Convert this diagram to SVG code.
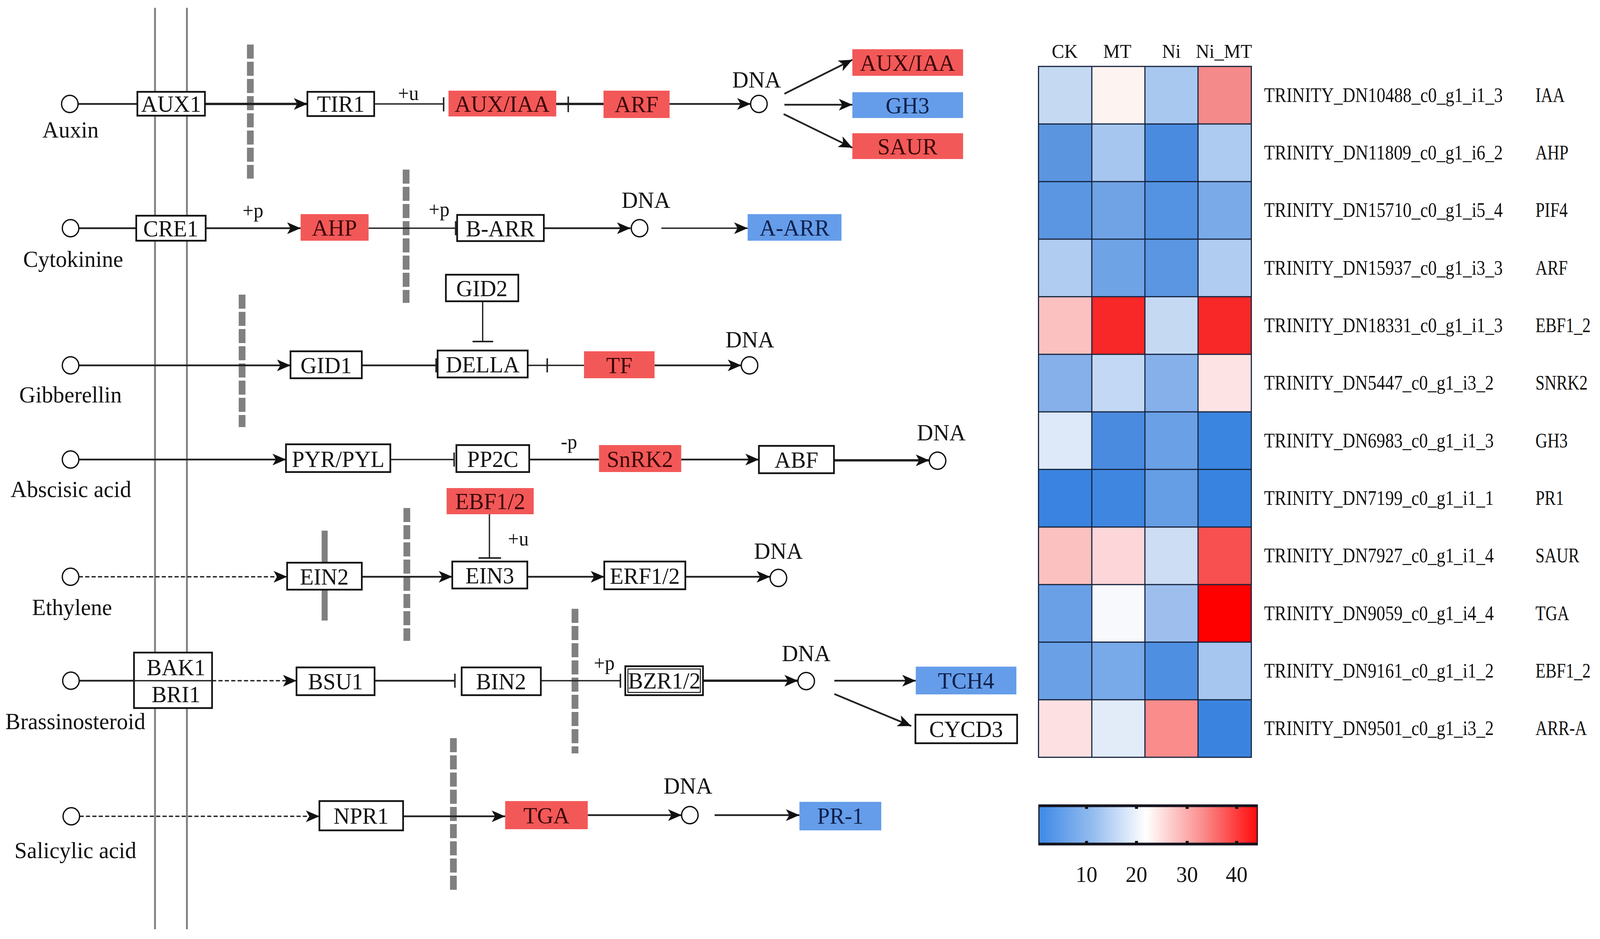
<svg xmlns="http://www.w3.org/2000/svg" width="4263" height="2403" viewBox="0 0 4263 2403" preserveAspectRatio="none">
<defs>
<marker id="arr" markerUnits="userSpaceOnUse" markerWidth="40" markerHeight="32" refX="36" refY="16" orient="auto">
<path d="M0,1 L36,16 L0,31 L9,16 z" fill="#111"/>
</marker>
<linearGradient id="cbar" x1="0" x2="1" y1="0" y2="0">
<stop offset="0" stop-color="#3d88e6"/>
<stop offset="0.25" stop-color="#95bdef"/>
<stop offset="0.49" stop-color="#ffffff"/>
<stop offset="0.75" stop-color="#fb8c8c"/>
<stop offset="1" stop-color="#ff0a0a"/>
</linearGradient>
<style>
svg{width:100vw;height:100vh;display:block}
.t{font-family:"Liberation Serif","Times New Roman",serif;font-size:60px;fill:#111;text-anchor:middle}
.s{font-family:"Liberation Serif","Times New Roman",serif;font-size:52px;fill:#111;text-anchor:middle}
.h{font-family:"Liberation Serif","Times New Roman",serif;font-size:50px;fill:#111;text-anchor:middle}
.g{font-family:"Liberation Serif","Times New Roman",serif;font-size:52px;fill:#111;text-anchor:start}
.box{fill:#fff;stroke:#111;stroke-width:4.5}
.red{fill:#f35858}
.blue{fill:#659dea}
.rt{fill:#3a0808}
.bt{fill:#10204a}
.c{fill:#fff;stroke:#111;stroke-width:3.5}
.ln{stroke:#222;stroke-width:4.5;fill:none}
.thk{stroke-width:6}
.thn{stroke-width:3.5}
.dsh{stroke-dasharray:11 6}
.arr{marker-end:url(#arr)}
.bar{stroke:#222;stroke-width:4;fill:none}
.gd{stroke:#808080;stroke-width:18;stroke-dasharray:36 8;fill:none}
.mem{stroke:#808080;stroke-width:5;fill:none}
.grid{stroke:#16233d;stroke-width:3;fill:none}
</style>
</defs>
<rect width="4263" height="2403" fill="#fff"/>

<g id="membrane">
<line class="mem" x1="413" y1="20" x2="413" y2="2378"/>
<line class="mem" x1="498" y1="20" x2="498" y2="2378"/>
<line class="gd" x1="667" y1="114" x2="667" y2="457"/>
<line class="gd" x1="1082" y1="434" x2="1082" y2="775"/>
<line class="gd" x1="645" y1="754" x2="645" y2="1093"/>
<line class="gd" x1="1084" y1="1300" x2="1084" y2="1640"/>
<line class="gd" x1="1532" y1="1558" x2="1532" y2="1928"/>
<line class="gd" x1="1208" y1="1889" x2="1208" y2="2278"/>
<line stroke="#808080" stroke-width="16" x1="865" y1="1358" x2="865" y2="1588"/>
</g>

<g id="connectors">
<line class="ln" x1="208" y1="266" x2="366" y2="266"/>
<line class="ln thk arr" x1="546" y1="266" x2="819" y2="266"/>
<line class="ln thn" x1="997" y1="266" x2="1182" y2="266"/>
<line class="bar" x1="1182" y1="249" x2="1182" y2="285"/>
<line class="ln thk" x1="1482" y1="266" x2="1608" y2="266"/>
<line class="bar" x1="1514" y1="247" x2="1514" y2="287"/>
<line class="ln arr" x1="1784" y1="266" x2="2000" y2="266"/>
<line class="ln arr" x1="2090" y1="240" x2="2271" y2="153"/>
<line class="ln arr" x1="2090" y1="268" x2="2271" y2="268"/>
<line class="ln arr" x1="2088" y1="292" x2="2271" y2="378"/>
<line class="ln" x1="210" y1="584" x2="363" y2="584"/>
<line class="ln arr" x1="548" y1="584" x2="801" y2="584"/>
<line class="ln thn" x1="982" y1="584" x2="1214" y2="584"/>
<line class="bar" x1="1214" y1="566" x2="1214" y2="602"/>
<line class="ln arr" x1="1449" y1="584" x2="1680" y2="584"/>
<line class="ln thn arr" x1="1762" y1="584" x2="1992" y2="584"/>
<line class="ln arr" x1="210" y1="935" x2="774" y2="935"/>
<line class="ln" x1="964" y1="935" x2="1162" y2="935"/>
<line class="bar" x1="1162" y1="917" x2="1162" y2="953"/>
<line class="ln thn" x1="1406" y1="935" x2="1556" y2="935"/>
<line class="bar" x1="1458" y1="917" x2="1458" y2="953"/>
<line class="ln arr" x1="1744" y1="935" x2="1975" y2="935"/>
<line class="ln thn" x1="1286" y1="771" x2="1286" y2="874"/>
<line class="bar" x1="1259" y1="874" x2="1314" y2="874"/>
<line class="ln arr" x1="210" y1="1176" x2="762" y2="1176"/>
<line class="ln thn" x1="1040" y1="1176" x2="1210" y2="1176"/>
<line class="bar" x1="1210" y1="1158" x2="1210" y2="1194"/>
<line class="ln" x1="1410" y1="1176" x2="1596" y2="1176"/>
<line class="ln arr" x1="1815" y1="1176" x2="2022" y2="1176"/>
<line class="ln thk arr" x1="2222" y1="1178" x2="2476" y2="1178"/>
<line class="ln thn dsh arr" x1="210" y1="1476" x2="765" y2="1476"/>
<line class="ln arr" x1="964" y1="1476" x2="1205" y2="1476"/>
<line class="ln arr" x1="1405" y1="1476" x2="1610" y2="1476"/>
<line class="ln arr" x1="1826" y1="1476" x2="2052" y2="1476"/>
<line class="ln thn" x1="1304" y1="1316" x2="1304" y2="1428"/>
<line class="bar" x1="1275" y1="1428" x2="1335" y2="1428"/>
<line class="ln" x1="211" y1="1742" x2="357" y2="1742"/>
<line class="ln thn dsh arr" x1="565" y1="1742" x2="790" y2="1742"/>
<line class="ln" x1="998" y1="1742" x2="1212" y2="1742"/>
<line class="bar" x1="1212" y1="1724" x2="1212" y2="1760"/>
<line class="ln thn" x1="1441" y1="1742" x2="1653" y2="1742"/>
<line class="bar" x1="1653" y1="1724" x2="1653" y2="1760"/>
<line class="ln thk arr" x1="1873" y1="1742" x2="2126" y2="1742"/>
<line class="ln arr" x1="2223" y1="1742" x2="2440" y2="1742"/>
<line class="ln arr" x1="2223" y1="1776" x2="2428" y2="1858"/>
<line class="ln thn dsh arr" x1="212" y1="2089" x2="851" y2="2089"/>
<line class="ln arr" x1="1074" y1="2089" x2="1346" y2="2089"/>
<line class="ln arr" x1="1566" y1="2086" x2="1816" y2="2086"/>
<line class="ln arr" x1="1904" y1="2086" x2="2130" y2="2086"/>
<text class="s" x="1088" y="256">+u</text>
<text class="s" x="674" y="556">+p</text>
<text class="s" x="1170" y="553">+p</text>
<text class="s" x="1516" y="1148">-p</text>
<text class="s" x="1381" y="1396">+u</text>
<text class="s" x="1610" y="1714">+p</text>
</g>

<g id="n-auxin"><circle class="c" cx="186" cy="266" r="22"/><text class="t" x="188" y="352">Auxin</text></g>
<g id="n-aux1"><rect class="box" x="366" y="235" width="180" height="61"/><text class="t" x="456" y="286">AUX1</text></g>
<g id="n-tir1"><rect class="box" x="819" y="235" width="178" height="62"/><text class="t" x="908" y="286">TIR1</text></g>
<g id="n-auxiaa1"><rect class="red" x="1195" y="232" width="287" height="66"/><text class="t rt" x="1338" y="286">AUX/IAA</text></g>
<g id="n-arf"><rect class="red" x="1608" y="232" width="176" height="70"/><text class="t rt" x="1696" y="287">ARF</text></g>
<g id="n-dna1"><circle class="c" cx="2022" cy="266" r="22"/><text class="t" x="2016" y="224">DNA</text></g>
<g id="n-auxiaa2"><rect class="red" x="2271" y="126" width="295" height="68"/><text class="t rt" x="2418" y="181">AUX/IAA</text></g>
<g id="n-gh3"><rect class="blue" x="2271" y="236" width="295" height="66"/><text class="t bt" x="2418" y="290">GH3</text></g>
<g id="n-saur"><rect class="red" x="2271" y="341" width="295" height="66"/><text class="t rt" x="2418" y="395">SAUR</text></g>

<g id="n-cytokinine"><circle class="c" cx="188" cy="584" r="22"/><text class="t" x="195" y="683">Cytokinine</text></g>
<g id="n-cre1"><rect class="box" x="363" y="552" width="185" height="64"/><text class="t" x="455" y="605">CRE1</text></g>
<g id="n-ahp"><rect class="red" x="801" y="548" width="181" height="68"/><text class="t rt" x="891" y="603">AHP</text></g>
<g id="n-barr"><rect class="box" x="1218" y="550" width="231" height="67"/><text class="t" x="1333" y="605">B-ARR</text></g>
<g id="n-dna2"><circle class="c" cx="1704" cy="584" r="22"/><text class="t" x="1721" y="532">DNA</text></g>
<g id="n-aarr"><rect class="blue" x="1992" y="548" width="250" height="68"/><text class="t bt" x="2117" y="603">A-ARR</text></g>
<g id="n-gid2"><rect class="box" x="1188" y="703" width="193" height="68"/><text class="t" x="1284" y="758">GID2</text></g>

<g id="n-gibberellin"><circle class="c" cx="188" cy="935" r="22"/><text class="t" x="188" y="1030">Gibberellin</text></g>
<g id="n-gid1"><rect class="box" x="774" y="899" width="190" height="69"/><text class="t" x="869" y="955">GID1</text></g>
<g id="n-della"><rect class="box" x="1166" y="897" width="240" height="69"/><text class="t" x="1286" y="953">DELLA</text></g>
<g id="n-tf"><rect class="red" x="1556" y="899" width="188" height="69"/><text class="t rt" x="1650" y="955">TF</text></g>
<g id="n-dna3"><circle class="c" cx="1997" cy="935" r="22"/><text class="t" x="1998" y="889">DNA</text></g>

<g id="n-abscisic"><circle class="c" cx="188" cy="1176" r="22"/><text class="t" x="189" y="1272">Abscisic acid</text></g>
<g id="n-pyr"><rect class="box" x="762" y="1137" width="278" height="71"/><text class="t" x="901" y="1195">PYR/PYL</text></g>
<g id="n-pp2c"><rect class="box" x="1216" y="1139" width="194" height="69"/><text class="t" x="1313" y="1195">PP2C</text></g>
<g id="n-snrk2"><rect class="red" x="1596" y="1139" width="219" height="69"/><text class="t rt" x="1705" y="1195">SnRK2</text></g>
<g id="n-abf"><rect class="box" x="2022" y="1141" width="200" height="70"/><text class="t" x="2122" y="1197">ABF</text></g>
<g id="n-dna4"><circle class="c" cx="2498" cy="1179" r="22"/><text class="t" x="2508" y="1127">DNA</text></g>
<g id="n-ebf12"><rect class="red" x="1190" y="1249" width="232" height="67"/><text class="t rt" x="1306" y="1303">EBF1/2</text></g>

<g id="n-ethylene"><circle class="c" cx="188" cy="1476" r="22"/><text class="t" x="192" y="1574">Ethylene</text></g>
<g id="n-ein2"><rect class="box" x="765" y="1440" width="199" height="69"/><text class="t" x="864" y="1496">EIN2</text></g>
<g id="n-ein3"><rect class="box" x="1205" y="1437" width="200" height="69"/><text class="t" x="1305" y="1493">EIN3</text></g>
<g id="n-erf12"><rect class="box" x="1610" y="1437" width="216" height="71"/><text class="t" x="1718" y="1494">ERF1/2</text></g>
<g id="n-dna5"><circle class="c" cx="2074" cy="1479" r="22"/><text class="t" x="2074" y="1430">DNA</text></g>

<g id="n-brassinosteroid"><circle class="c" cx="189" cy="1742" r="22"/><text class="t" x="201" y="1866">Brassinosteroid</text></g>
<g id="n-bak1bri1"><rect class="box" x="357" y="1670" width="208" height="142"/><line class="ln thn" x1="357" y1="1742" x2="565" y2="1742"/><text class="t" x="469" y="1728">BAK1</text><text class="t" x="469" y="1797">BRI1</text></g>
<g id="n-bsu1"><rect class="box" x="790" y="1708" width="208" height="71"/><text class="t" x="894" y="1764">BSU1</text></g>
<g id="n-bin2"><rect class="box" x="1230" y="1708" width="211" height="71"/><text class="t" x="1335" y="1764">BIN2</text></g>
<g id="n-bzr12"><rect class="box" x="1666" y="1705" width="207" height="74"/><rect fill="none" stroke="#111" stroke-width="2.5" x="1673" y="1712" width="193" height="60"/><text class="t" x="1770" y="1762">BZR1/2</text></g>
<g id="n-dna6"><circle class="c" cx="2148" cy="1743" r="22"/><text class="t" x="2148" y="1692">DNA</text></g>
<g id="n-tch4"><rect class="blue" x="2440" y="1706" width="268" height="71"/><text class="t bt" x="2574" y="1762">TCH4</text></g>
<g id="n-cycd3"><rect class="box" x="2439" y="1829" width="271" height="73"/><text class="t" x="2574" y="1886">CYCD3</text></g>

<g id="n-salicylic"><circle class="c" cx="190" cy="2089" r="22"/><text class="t" x="201" y="2196">Salicylic acid</text></g>
<g id="n-npr1"><rect class="box" x="851" y="2050" width="223" height="75"/><text class="t" x="962" y="2108">NPR1</text></g>
<g id="n-tga"><rect class="red" x="1346" y="2050" width="220" height="72"/><text class="t rt" x="1456" y="2107">TGA</text></g>
<g id="n-dna7"><circle class="c" cx="1838" cy="2086" r="22"/><text class="t" x="1833" y="2031">DNA</text></g>
<g id="n-pr1"><rect class="blue" x="2130" y="2052" width="218" height="73"/><text class="t bt" x="2239" y="2108">PR-1</text></g>

<g id="heatmap">
<text class="h" x="2837" y="148">CK</text>
<text class="h" x="2977" y="148">MT</text>
<text class="h" x="3121" y="148">Ni</text>
<text class="h" x="3261" y="148">Ni_MT</text>
<g id="cells">
<rect x="2767" y="170" width="142" height="148" fill="#c5d9f2"/><rect x="2909" y="170" width="142" height="148" fill="#fdf3f0"/><rect x="3050" y="170" width="143" height="148" fill="#a9c8ef"/><rect x="3192" y="170" width="142" height="148" fill="#f58a8a"/>
<rect x="2767" y="317" width="142" height="148" fill="#5b95e0"/><rect x="2909" y="317" width="142" height="148" fill="#a6c6ef"/><rect x="3050" y="317" width="143" height="148" fill="#4a8be0"/><rect x="3192" y="317" width="142" height="148" fill="#adcbf0"/>
<rect x="2767" y="465" width="142" height="148" fill="#5a96e2"/><rect x="2909" y="465" width="142" height="148" fill="#6fa3e6"/><rect x="3050" y="465" width="143" height="148" fill="#5393e1"/><rect x="3192" y="465" width="142" height="148" fill="#7aaae8"/>
<rect x="2767" y="612" width="142" height="148" fill="#b0cdf1"/><rect x="2909" y="612" width="142" height="148" fill="#6ea3e6"/><rect x="3050" y="612" width="143" height="148" fill="#5a96e2"/><rect x="3192" y="612" width="142" height="148" fill="#b0cdf1"/>
<rect x="2767" y="759" width="142" height="148" fill="#fbc0c0"/><rect x="2909" y="759" width="142" height="148" fill="#f82828"/><rect x="3050" y="759" width="143" height="148" fill="#c5d9f3"/><rect x="3192" y="759" width="142" height="148" fill="#f82828"/>
<rect x="2767" y="907" width="142" height="148" fill="#85b0ea"/><rect x="2909" y="907" width="142" height="148" fill="#c3d8f4"/><rect x="3050" y="907" width="143" height="148" fill="#85b0ea"/><rect x="3192" y="907" width="142" height="148" fill="#fde3e3"/>
<rect x="2767" y="1054" width="142" height="148" fill="#dde9f8"/><rect x="2909" y="1054" width="142" height="148" fill="#4a8be0"/><rect x="3050" y="1054" width="143" height="148" fill="#6aa0e6"/><rect x="3192" y="1054" width="142" height="148" fill="#3a85e0"/>
<rect x="2767" y="1201" width="142" height="148" fill="#3a83e0"/><rect x="2909" y="1201" width="142" height="148" fill="#3f86e1"/><rect x="3050" y="1201" width="143" height="148" fill="#659ee5"/><rect x="3192" y="1201" width="142" height="148" fill="#3783df"/>
<rect x="2767" y="1349" width="142" height="148" fill="#fbc0c0"/><rect x="2909" y="1349" width="142" height="148" fill="#fcd6d8"/><rect x="3050" y="1349" width="143" height="148" fill="#cdddf4"/><rect x="3192" y="1349" width="142" height="148" fill="#f85050"/>
<rect x="2767" y="1496" width="142" height="148" fill="#6aa0e6"/><rect x="2909" y="1496" width="142" height="148" fill="#f7f9fd"/><rect x="3050" y="1496" width="143" height="148" fill="#9ebfee"/><rect x="3192" y="1496" width="142" height="148" fill="#fe0000"/>
<rect x="2767" y="1643" width="142" height="148" fill="#6aa0e6"/><rect x="2909" y="1643" width="142" height="148" fill="#78a9e8"/><rect x="3050" y="1643" width="143" height="148" fill="#4f8fe2"/><rect x="3192" y="1643" width="142" height="148" fill="#a6c6ef"/>
<rect x="2767" y="1791" width="142" height="147" fill="#fde0e2"/><rect x="2909" y="1791" width="142" height="147" fill="#e2ecf9"/><rect x="3050" y="1791" width="143" height="147" fill="#fa8c8c"/><rect x="3192" y="1791" width="142" height="147" fill="#3a84e0"/>
</g>
<g id="gridlines">
<rect class="grid" x="2767" y="170" width="567" height="1768"/>
<line class="grid" x1="2909" y1="170" x2="2909" y2="1938"/>
<line class="grid" x1="3050.5" y1="170" x2="3050.5" y2="1938"/>
<line class="grid" x1="3192" y1="170" x2="3192" y2="1938"/>
<line class="grid" x1="2767" y1="317.3" x2="3334" y2="317.3"/>
<line class="grid" x1="2767" y1="464.7" x2="3334" y2="464.7"/>
<line class="grid" x1="2767" y1="612" x2="3334" y2="612"/>
<line class="grid" x1="2767" y1="759.3" x2="3334" y2="759.3"/>
<line class="grid" x1="2767" y1="906.7" x2="3334" y2="906.7"/>
<line class="grid" x1="2767" y1="1054" x2="3334" y2="1054"/>
<line class="grid" x1="2767" y1="1201.3" x2="3334" y2="1201.3"/>
<line class="grid" x1="2767" y1="1348.7" x2="3334" y2="1348.7"/>
<line class="grid" x1="2767" y1="1496" x2="3334" y2="1496"/>
<line class="grid" x1="2767" y1="1643.3" x2="3334" y2="1643.3"/>
<line class="grid" x1="2767" y1="1790.7" x2="3334" y2="1790.7"/>
</g>
<g id="rowlabels">
<text class="g" x="3368" y="261" textLength="636" lengthAdjust="spacingAndGlyphs">TRINITY_DN10488_c0_g1_i1_3</text>
<text class="g" x="3368" y="408" textLength="636" lengthAdjust="spacingAndGlyphs">TRINITY_DN11809_c0_g1_i6_2</text>
<text class="g" x="3368" y="555" textLength="636" lengthAdjust="spacingAndGlyphs">TRINITY_DN15710_c0_g1_i5_4</text>
<text class="g" x="3368" y="703" textLength="636" lengthAdjust="spacingAndGlyphs">TRINITY_DN15937_c0_g1_i3_3</text>
<text class="g" x="3368" y="850" textLength="636" lengthAdjust="spacingAndGlyphs">TRINITY_DN18331_c0_g1_i1_3</text>
<text class="g" x="3368" y="997" textLength="612" lengthAdjust="spacingAndGlyphs">TRINITY_DN5447_c0_g1_i3_2</text>
<text class="g" x="3368" y="1145" textLength="612" lengthAdjust="spacingAndGlyphs">TRINITY_DN6983_c0_g1_i1_3</text>
<text class="g" x="3368" y="1292" textLength="612" lengthAdjust="spacingAndGlyphs">TRINITY_DN7199_c0_g1_i1_1</text>
<text class="g" x="3368" y="1439" textLength="612" lengthAdjust="spacingAndGlyphs">TRINITY_DN7927_c0_g1_i1_4</text>
<text class="g" x="3368" y="1587" textLength="612" lengthAdjust="spacingAndGlyphs">TRINITY_DN9059_c0_g1_i4_4</text>
<text class="g" x="3368" y="1734" textLength="612" lengthAdjust="spacingAndGlyphs">TRINITY_DN9161_c0_g1_i1_2</text>
<text class="g" x="3368" y="1881" textLength="612" lengthAdjust="spacingAndGlyphs">TRINITY_DN9501_c0_g1_i3_2</text>
<text class="g" x="4091" y="261" textLength="78" lengthAdjust="spacingAndGlyphs">IAA</text>
<text class="g" x="4091" y="408" textLength="88" lengthAdjust="spacingAndGlyphs">AHP</text>
<text class="g" x="4091" y="555" textLength="86" lengthAdjust="spacingAndGlyphs">PIF4</text>
<text class="g" x="4091" y="703" textLength="86" lengthAdjust="spacingAndGlyphs">ARF</text>
<text class="g" x="4091" y="850" textLength="147" lengthAdjust="spacingAndGlyphs">EBF1_2</text>
<text class="g" x="4091" y="997" textLength="139" lengthAdjust="spacingAndGlyphs">SNRK2</text>
<text class="g" x="4091" y="1145" textLength="86" lengthAdjust="spacingAndGlyphs">GH3</text>
<text class="g" x="4091" y="1292" textLength="76" lengthAdjust="spacingAndGlyphs">PR1</text>
<text class="g" x="4091" y="1439" textLength="117" lengthAdjust="spacingAndGlyphs">SAUR</text>
<text class="g" x="4091" y="1587" textLength="90" lengthAdjust="spacingAndGlyphs">TGA</text>
<text class="g" x="4091" y="1734" textLength="147" lengthAdjust="spacingAndGlyphs">EBF1_2</text>
<text class="g" x="4091" y="1881" textLength="137" lengthAdjust="spacingAndGlyphs">ARR-A</text>
</g>
</g>

<g id="colorbar">
<rect x="2767" y="2059" width="584" height="104" fill="url(#cbar)"/>
<g stroke="#14141e" fill="none">
<line x1="2767" y1="2062" x2="3351" y2="2062" stroke-width="7"/>
<line x1="2767" y1="2160" x2="3351" y2="2160" stroke-width="7"/>
<line x1="2768" y1="2059" x2="2768" y2="2163" stroke-width="3"/>
<line x1="3350" y1="2059" x2="3350" y2="2163" stroke-width="3"/>
</g>
<g fill="#111">
<rect x="2891" y="2062" width="8" height="8"/><rect x="3024" y="2062" width="8" height="8"/><rect x="3159" y="2062" width="8" height="8"/><rect x="3291" y="2062" width="8" height="8"/>
<rect x="2891" y="2152" width="8" height="8"/><rect x="3024" y="2152" width="8" height="8"/><rect x="3159" y="2152" width="8" height="8"/><rect x="3291" y="2152" width="8" height="8"/>
</g>
<text class="t" x="2895" y="2257" style="font-size:58px">10</text>
<text class="t" x="3028" y="2257" style="font-size:58px">20</text>
<text class="t" x="3163" y="2257" style="font-size:58px">30</text>
<text class="t" x="3295" y="2257" style="font-size:58px">40</text>
</g>
</svg>
